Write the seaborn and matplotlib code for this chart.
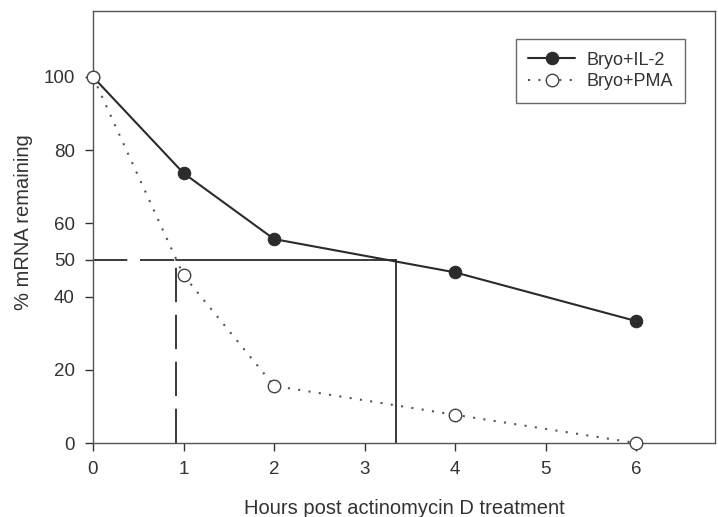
import matplotlib
matplotlib.use('Agg')
import matplotlib.pyplot as plt
import seaborn as sns
import pandas as pd

# data
hours = [0, 1, 2, 4, 6]
il2_vals = [100, 73.7, 55.7, 46.6, 33.3]
pma_vals = [100, 45.8, 15.6, 7.7, 0]
series_names = ['Bryo+IL-2', 'Bryo+PMA']

# half-life guide lines (time at 50% remaining)
half_level = 50
pma_half = 0.92
il2_half = 3.35

x_ticks = [0, 1, 2, 3, 4, 5, 6]
y_ticks = [0, 20, 40, 50, 60, 80, 100]

df = pd.DataFrame({
    'hours': hours * 2,
    'pct': il2_vals + pma_vals,
    'group': [series_names[0]] * len(hours) + [series_names[1]] * len(hours),
})

sns.set_style('ticks')
plt.rcParams['font.family'] = ['Liberation Sans', 'DejaVu Sans']
ink = '#2b2b2b'
text_col = '#333333'

fig = plt.figure(figsize=(7.18, 5.17), dpi=100)
ax = fig.add_axes([93 / 718, 1 - 443 / 517, (715 - 93) / 718, (443 - 11) / 517])

# guide lines first so markers sit on top
ax.plot([0, pma_half], [half_level, half_level], color=ink, lw=1.3, dashes=(19, 7))
ax.plot([pma_half, pma_half], [0, half_level], color=ink, lw=1.3, dashes=(19, 7))
ax.plot([pma_half, il2_half], [half_level, half_level], color=ink, lw=1.3)
ax.plot([il2_half, il2_half], [half_level, 0], color=ink, lw=1.3)

sns.lineplot(data=df, x='hours', y='pct', hue='group', style='group',
             palette=[ink, '#555555'], markers=['o', 'o'],
             dashes=[(None, None), (1, 4)], linewidth=1.5, ax=ax,
             legend=False, zorder=3)

lines = ax.get_lines()[-2:]
lines[0].set_markerfacecolor(ink)
lines[0].set_markeredgecolor(ink)
lines[0].set_markersize(9)
lines[1].set_markerfacecolor('white')
lines[1].set_markeredgecolor('#444444')
lines[1].set_markeredgewidth(1.0)
lines[1].set_markersize(9)
lines[1].set_clip_on(False)

ax.set_xlim(0, 6.87)
ax.set_ylim(0, 118)
ax.set_xticks(x_ticks)
ax.set_yticks(y_ticks)
ax.tick_params(colors=text_col, labelsize=13.5, length=6, width=1, pad=7)
for s in ax.spines.values():
    s.set_color('#555555')
    s.set_linewidth(1.0)

ax.set_xlabel('Hours post actinomycin D treatment', fontsize=14.5, color=text_col, labelpad=15)
ax.set_ylabel('% mRNA remaining', fontsize=14.5, color=text_col)
ax.yaxis.set_label_coords(-0.097, 0.512)

leg = ax.legend(lines, series_names, loc='upper right', bbox_to_anchor=(0.952, 0.935),
                fontsize=13, frameon=True, fancybox=False, edgecolor='#444444',
                handlelength=2.6, handletextpad=0.6, borderpad=0.7, labelspacing=0.25,
                borderaxespad=0)
leg.get_frame().set_linewidth(1.0)
for t in leg.get_texts():
    t.set_color(text_col)

fig.savefig('out.png', dpi=100)
